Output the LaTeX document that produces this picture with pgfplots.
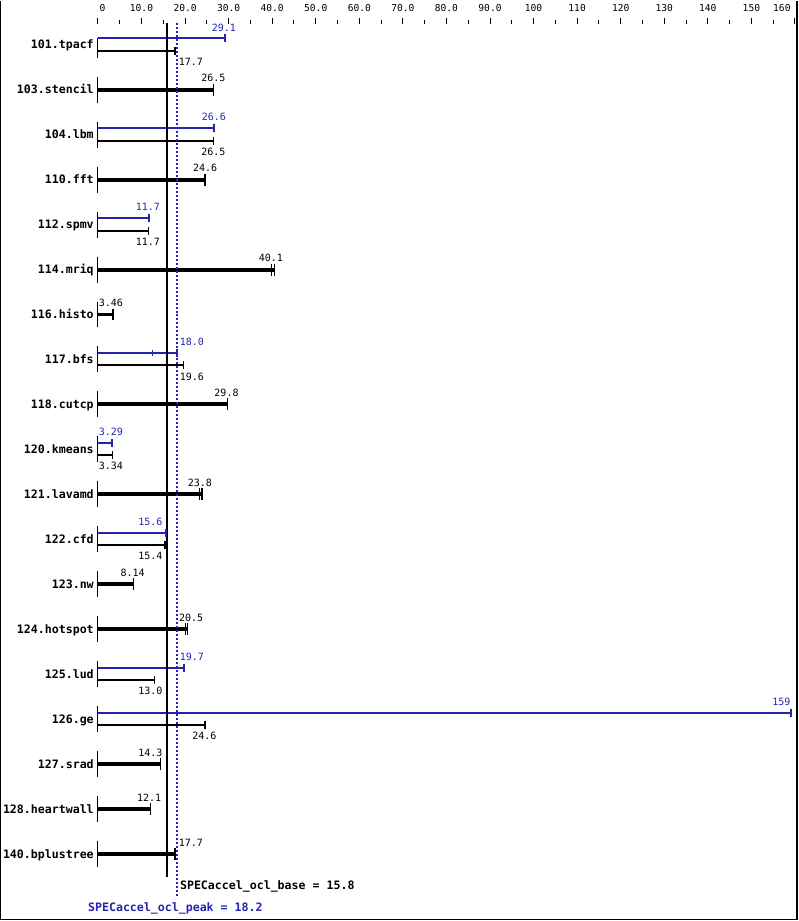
\documentclass[border=0pt]{standalone}
\usepackage{pgfplots}
\pgfplotsset{compat=1.18}
\usepackage{pgfplotstable}
\usepackage{fontspec}
\setmainfont{DejaVu Sans Mono}
\setmonofont{DejaVu Sans Mono}
\definecolor{peakblue}{RGB}{36,36,176}

% rows sit at y = 44 + 45*i (pixels, downwards); x in score units
% single result rows (base = peak): thick black bar
\pgfplotstableread{
y    v
89   26.5
179  24.6
269  40.5
314  3.46
404  29.8
494  23.9
584  8.14
629  20.5
764  14.3
809  12.1
854  17.7
}\singletab

% peak results, drawn 6.5 px above the row
\pgfplotstableread{
y      v
37.5   29.1
127.5  26.6
217.5  11.7
352.5  18.1
442.5  3.29
532.5  15.6
667.5  19.7
712.5  159
}\peaktab

% base results, drawn 6 px below the row
\pgfplotstableread{
y    v
50   17.7
140  26.5
230  11.7
365  19.6
455  3.34
545  15.4
680  13.0
725  24.6
}\basetab

% extra run marks
\pgfplotstableread{
y    v
269  39.9
494  23.4
629  20.0
}\runtab

\newcommand{\px}[1]{{(#1-98)/4.36}}
\newcommand{\val}[4]{\node[anchor=base,inner sep=0pt,text=#3,font=\fontsize{10}{10}\selectfont]
  at (axis cs:\px{#1},#2) {#4};}
\newcommand{\bench}[2]{\node[anchor=base east,inner sep=0pt,font=\fontsize{11.6}{12}\selectfont\bfseries]
  at (axis cs:\px{94},#1) {#2};}

\begin{document}
\begin{tikzpicture}
\begin{axis}[
    width=799pt, height=921pt, scale only axis,
    xmin={(0-98)/4.36}, xmax={(799-98)/4.36},
    ymin=0, ymax=921, y dir=reverse,
    hide axis, clip=false,
]
% frame
\path (axis cs:\px{0},0) rectangle (axis cs:\px{799},921);
\draw[line width=1.5pt] (axis cs:\px{0.75},0) -- (axis cs:\px{0.75},919.5)
   -- (axis cs:\px{797.5},919.5) -- (axis cs:\px{797.5},0);

% top scale
\pgfplotsinvokeforeach{0,10,...,160}{
  \draw[line width=1pt] (axis cs:#1,17) -- (axis cs:#1,23);
}
\pgfplotsinvokeforeach{5,15,...,155}{
  \draw[line width=1pt] (axis cs:#1,19.5) -- (axis cs:#1,23);
}
\pgfplotsinvokeforeach{10,20,...,90}{
  \node[anchor=base,inner sep=0pt,font=\fontsize{9.6}{10}\selectfont] at (axis cs:#1,10.5) {#1.0};
}
\pgfplotsinvokeforeach{100,110,...,150}{
  \node[anchor=base,inner sep=0pt,font=\fontsize{9.6}{10}\selectfont] at (axis cs:#1,10.5) {#1};
}
\node[anchor=base west,inner sep=0pt,font=\fontsize{9.6}{10}\selectfont] at (axis cs:\px{99.5},10.5) {0};
\node[anchor=base,inner sep=0pt,font=\fontsize{9.6}{10}\selectfont] at (axis cs:\px{782.5},10.5) {160};

% short axis pieces at zero for each row
\draw[line width=1pt] (axis cs:0,37) -- (axis cs:0,57);
\pgfplotsinvokeforeach{89,134,...,854}{
  \draw[line width=1pt] (axis cs:0,#1-13) -- (axis cs:0,#1+13);
}

% bars
\addplot[xcomb, black, line width=4pt, mark=|, mark size=6pt,
         mark options={line width=1.2pt}] table[x=v,y=y] {\singletab};
\addplot[only marks, black, mark=|, mark size=6pt,
         mark options={line width=1pt}] table[x=v,y=y] {\runtab};
\addplot[xcomb, peakblue, line width=2pt, mark=|, mark size=4pt,
         mark options={line width=2pt}] table[x=v,y=y] {\peaktab};
\addplot[only marks, peakblue, mark=|, mark size=3pt,
         mark options={line width=1pt}] coordinates {(12.5,352.5)};
\addplot[xcomb, black, line width=2pt, mark=|, mark size=4pt,
         mark options={line width=1.2pt}] table[x=v,y=y] {\basetab};

% overall metric lines
\addplot[black, line width=2pt] coordinates {(15.8,22) (15.8,877)};
\addplot[peakblue, line width=1.5pt, dash pattern=on 2pt off 2pt] coordinates {(18.2,22) (18.2,898)};

% benchmark names
\bench{48}{101.tpacf}
\bench{93}{103.stencil}
\bench{138}{104.lbm}
\bench{183}{110.fft}
\bench{228}{112.spmv}
\bench{273}{114.mriq}
\bench{318}{116.histo}
\bench{363}{117.bfs}
\bench{408}{118.cutcp}
\bench{453}{120.kmeans}
\bench{498}{121.lavamd}
\bench{543}{122.cfd}
\bench{588}{123.nw}
\bench{633}{124.hotspot}
\bench{678}{125.lud}
\bench{723}{126.ge}
\bench{768}{127.srad}
\bench{813}{128.heartwall}
\bench{858}{140.bplustree}

% value labels
\val{224}{30.3}{peakblue}{29.1}
\val{191}{64.6}{black}{17.7}
\val{213.5}{81.2}{black}{26.5}
\val{214}{120.3}{peakblue}{26.6}
\val{213.5}{154.6}{black}{26.5}
\val{205.3}{171.2}{black}{24.6}
\val{148}{210.3}{peakblue}{11.7}
\val{148}{244.6}{black}{11.7}
\val{271}{261.2}{black}{40.1}
\val{111}{306.2}{black}{3.46}
\val{192}{345.3}{peakblue}{18.0}
\val{192}{379.6}{black}{19.6}
\val{226.7}{396.2}{black}{29.8}
\val{111}{435.3}{peakblue}{3.29}
\val{111}{469.6}{black}{3.34}
\val{200}{486.2}{black}{23.8}
\val{150.5}{525.3}{peakblue}{15.6}
\val{150.5}{559.6}{black}{15.4}
\val{132.7}{576.2}{black}{8.14}
\val{191.3}{621.2}{black}{20.5}
\val{192}{660.3}{peakblue}{19.7}
\val{150.5}{694.6}{black}{13.0}
\val{782}{705.3}{peakblue}{159}
\val{204.5}{739.6}{black}{24.6}
\val{150.5}{756.2}{black}{14.3}
\val{149.3}{801.2}{black}{12.1}
\val{191}{846.2}{black}{17.7}

% summary labels
\node[anchor=base west,inner sep=0pt,font=\fontsize{11.6}{12}\selectfont\bfseries]
  at (axis cs:\px{180},889) {SPECaccel\_ocl\_base = 15.8};
\node[anchor=base west,inner sep=0pt,text=peakblue,font=\fontsize{11.6}{12}\selectfont\bfseries]
  at (axis cs:\px{88},911.5) {SPECaccel\_ocl\_peak = 18.2};
\end{axis}
\end{tikzpicture}
\end{document}
